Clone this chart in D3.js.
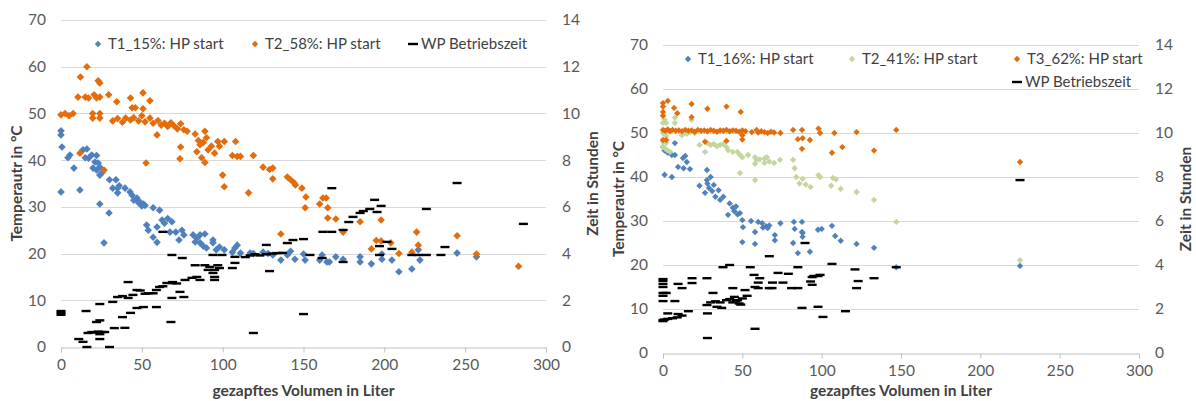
<!DOCTYPE html>
<html>
<head>
<meta charset="utf-8">
<script src="https://cdn.jsdelivr.net/npm/d3@7"></script>
<style>
  body { margin: 0; background: #fff; }
  svg { display: block; font-family: Lato, "Open Sans", sans-serif; }
</style>
</head>
<body>
<svg id="chart" width="1196" height="401"></svg>
<script>
// ---- data: [Liter, °C] for temperatures, [Liter, Stunden] for WP ----
const leftT1 = [[0,46.3],[0,45.4],[0.6,42.8],[0,33.2],[4.3,40.5],[5.5,41.1],[8,38.3],[11.7,33.6],[13.6,42.2],[16,42.4],[15,40.5],[17,40.4],[19,41.1],[22,41],[21,39.6],[23,39.4],[19.8,38.3],[22,37.9],[24,38.5],[25.4,37.3],[24,36.8],[30,35.8],[34,35.8],[32,34],[35,34],[36,34.5],[39.6,34],[35,33],[42.7,33.2],[44,32.5],[45,31.4],[47,31.9],[48,30.9],[49,31],[50,30.2],[51,30.6],[52,30.3],[24,30.6],[29.7,28.7],[26.6,22.3],[53,26.1],[54,25],[57,29.8],[61,29.3],[57,23.5],[59.4,22.4],[59.4,25.7],[62.5,27.2],[64,26.5],[66,27.5],[68.6,26.8],[67.4,24.6],[71,24.6],[74.8,25],[73,22.9],[76,24],[81.7,24],[84,23.3],[86,24],[89,24.2],[83,22.5],[86,22.3],[88,21.6],[90,21.2],[94,22.9],[94,22.3],[96,20.8],[98,21.4],[101,20.8],[106,20.3],[107.6,21.2],[109,21.8],[111,20.1],[117,20.1],[119,20],[125,20.3],[128,20],[131,19.7],[136,18.6],[140,19.7],[142,20.5],[144.7,18.8],[150,19.9],[151,18.6],[160,18.6],[161.5,19.7],[164.5,18.2],[166,18.2],[170,19.3],[174.5,18.8],[185,18.2],[185,19.3],[192,17.8],[198.5,18.8],[198.5,19.9],[204.7,18.6],[209,16.1],[217,16.7],[222,18.6],[221,20.8],[245,20.1],[257,19.3]];

const leftT2 = [[0,49.7],[2.5,50],[5,49.5],[7.5,50],[16,60],[12,57.8],[23,57],[24,56.5],[10.5,53.5],[15,53.5],[17,53.3],[20.5,54],[22,53.3],[24,53.5],[29.5,54],[19.6,50],[24,50],[19.6,49],[24,49],[34.5,52.5],[32,48.4],[35,48.9],[38,48.1],[40,49],[43,48.6],[45,49.1],[48,48.4],[50,49.5],[52,48.2],[55,49],[57,47.9],[60,48.5],[62,47.5],[64,47.9],[66,47.2],[68,48],[70,47.3],[72,46.7],[74,47.8],[76,46.5],[78,46.2],[43,53.3],[50.7,54.4],[55,52.7],[44,51.2],[46,51.2],[50.7,51],[52.6,39.4],[59.4,45.4],[74,42.8],[73.6,40.3],[26.6,37.9],[11.7,41.5],[83,45.6],[85,44.2],[86,43.3],[88,43.8],[89,46.2],[90,44.8],[91,42.2],[93,43],[95,41.5],[97,44],[84,41.8],[87,40.5],[89,39.5],[98,43],[101,44],[108,44],[106,41],[109,40.8],[111,40.8],[119,41],[100,36.8],[101,34.3],[116,33],[125,38.5],[129,38],[131,38.3],[131,36],[140,36.4],[142,35.8],[144,35.2],[145,34.7],[149,34],[151.5,32.1],[151,29.8],[160,30.6],[162,31.9],[164,31.9],[165,29.8],[165,27.6],[170,27.4],[174.5,24.6],[185,26.8],[198,27.2],[136,24.2],[192,21],[195,22.8],[198,22.7],[204,22.3],[209,20],[217,20.3],[220,24.6],[221,21.8],[245,23.8],[257,19.9],[283,17.3]];

const leftWP = [[0,1.54],[0,1.38],[0,1.46],[15.5,1.54],[11,0.34],[13.6,0.22],[16,0],[30,0],[16.7,0.6],[19,0.64],[21,0.62],[23,0.66],[25,0.64],[27,0.64],[24,0.55],[24,0.34],[22,1.07],[24,1.14],[24,1.84],[32,1.93],[35,2.14],[38,2.18],[41.5,2.1],[41.5,2.78],[33,0.81],[39.5,0.82],[38,1.28],[43,1.46],[47,1.67],[51,1.71],[59,1.71],[44.5,2.23],[47,2.44],[49,2.42],[52,2.28],[54,2.3],[57,2.3],[59,2.44],[61,2.57],[63,2.6],[65.5,2.74],[68.6,2.74],[69,2.78],[71.5,2.72],[63,4.93],[68.6,3.94],[75,3.81],[68.6,2.1],[68,1.07],[73.6,2.36],[76,2.14],[76.7,2.87],[81,2.96],[84,3.0],[86,2.87],[83,3.5],[89,3.5],[92,3.43],[91,3.3],[95,3.3],[94,3.17],[95,3.0],[95,2.87],[97,3.5],[98,3.38],[99.6,3.94],[94,3.94],[107.6,3.86],[106,3.38],[107.6,3.6],[114,3.85],[117,3.92],[120,3.97],[123,3.92],[127,3.97],[131,4.0],[134,4.02],[137,4.03],[119,0.6],[127,4.37],[129,3.25],[140,4.45],[143.5,4.58],[150,4.62],[150,1.41],[154,3.94],[161.5,3.81],[162,4.93],[167.5,4.93],[174.5,3.64],[174.5,5.01],[178,5.35],[180.6,5.57],[185,5.74],[187,5.82],[191,5.91],[195.5,5.78],[198,6.04],[194,6.3],[197,4.32],[201.6,4.5],[204.7,4.2],[197,3.94],[217,3.94],[221,3.94],[226,3.94],[226,5.91],[235,3.94],[237.5,4.28],[286,5.27],[167.5,6.8],[245,7.02]];

const rightT1 = [[0,46.8],[1,46],[3,45.5],[5.6,45],[7.5,45],[7.5,47.7],[1,40.5],[5.6,40],[12.6,44.3],[15,43.4],[9.5,42.3],[13,42],[17,41.8],[14,44.8],[27.7,41.6],[27.7,39.3],[23,38],[26.5,36.4],[28,38.5],[29,37.5],[30,40],[31,36.8],[32,38.2],[33,35.5],[35,37],[36,34.8],[38,35.5],[42,34],[44,33],[45,32.2],[46,33.3],[47,31.5],[41,31.4],[48.5,31.8],[50,30.2],[50.4,28.6],[50,25.2],[55.5,30],[58,27.5],[58,24.8],[60,29.8],[62.5,29.5],[63,28.5],[65,28.8],[66,28.4],[67,29],[74,29.5],[70.5,26.8],[70.5,25.6],[82.5,29.8],[83,28.2],[87.6,29.8],[88,27.3],[87.6,27.5],[88,26.4],[82,25],[85,22.7],[92.6,23],[97.7,28],[100,28.2],[106.5,28.9],[108.5,26.6],[112,25.5],[122,24.8],[133,23.9],[147,19.5],[225,19.8]];

const rightT2 = [[0,54],[1,53],[0,52.3],[2,52.3],[7.5,52.3],[7.5,53.5],[18,53],[0,50],[2,49.3],[12,49.5],[15,49.8],[17,50.2],[20,50],[0,48],[2,47.8],[0,46.8],[1.5,46.4],[3,46],[4.5,45.7],[23,47.3],[26.5,45.7],[28,47.7],[30,47.3],[32,47.5],[34,47],[36,47.3],[38,47.5],[40,46.8],[41,46.1],[44,45.7],[47,45.7],[48.5,45],[50,44.5],[48.5,40.9],[53.6,45],[58,44.5],[59,43.9],[58,43],[61,44],[64,44.2],[65.5,44.5],[64,43.2],[67,43.5],[70,43.2],[73.7,43.9],[58,39.3],[82,43.9],[83,42],[84,40],[86,38.5],[88,39.6],[90,38.3],[93,37.7],[98,40.4],[99,40],[107,39.8],[106,38],[109,39.5],[112,37.3],[122,36.6],[133,34.8],[147,29.8],[225,21.1]];

const rightT3 = [[0,56.8],[3,57.3],[0,56],[0,54.8],[0,53.9],[7,55.7],[9,54.5],[18,56.6],[18,53.6],[28,55.5],[40,56],[49,54.8],[0,50.7],[1.5,50.5],[3,50.8],[4.5,50.4],[6,50.7],[8,50.5],[10,50.6],[12,50.4],[14,50.7],[16,50.5],[18,50.6],[20,50.3],[22,50.7],[24,50.5],[26,50.6],[28,50.4],[30,50.7],[32,50.5],[34,50.3],[36,50.6],[38,50.5],[40,50.7],[42,50.4],[44,50.6],[46,50.5],[48,50.3],[50,50.6],[52,50.4],[56,50.2],[60,50.1],[62,50.4],[64,50.2],[66,50],[68,50.3],[70,50.1],[0,48.4],[2,48.4],[26.5,48],[40,48.2],[50,49.5],[50,48.5],[59,50.7],[74,50],[82,50.7],[87.6,50.7],[98,51],[99,50],[108,50],[85,48.6],[88,48.8],[92.6,48.4],[87.6,46.4],[106.5,45.5],[113,46.8],[122,50.2],[133,46],[147,50.7],[225,43.4]];

const rightWP = [[0,3.36],[0,3.28],[0,3.14],[0,3.0],[0,2.73],[0,2.6],[0,2.36],[0,1.5],[0,1.45],[1,1.52],[3,1.55],[6,1.58],[9,1.62],[12,1.7],[16,1.9],[7.5,2.36],[2,2.73],[9.5,3.14],[12,2.95],[18.3,3.18],[18.3,3.4],[27.7,3.4],[3,1.8],[9.5,1.77],[28,1.8],[27.7,2.18],[30,2.3],[31.5,2.73],[33,2.35],[34,2.1],[36,2.3],[37,2.05],[40,2.4],[42,2.45],[44,2.3],[46,2.35],[37.8,3.9],[42,4.0],[44,2.95],[45,2.55],[47,2.4],[48,2.25],[49,2.2],[50,2.48],[51.7,2.86],[53,2.6],[55,3.9],[57.4,3.55],[60,3.2],[58,3.0],[61,3.4],[60,2.95],[67,2.95],[68.7,2.95],[69,3.2],[72.5,3.64],[79,3.6],[75.6,3.2],[81,2.95],[85,2.95],[85,3.9],[94,3.45],[94,3.1],[93,3.25],[95,3.5],[97.7,3.5],[99,3.55],[87.6,2.05],[97.7,2.1],[100.8,1.64],[106.5,4.05],[115,1.9],[58,1.1],[28,0.68],[67,4.4],[89.5,5.0],[121,3.8],[123,3.27],[122,2.95],[133,3.4],[147,3.9],[225,7.86]];

const xTicks = [0, 50, 100, 150, 200, 250, 300];
const yTicks = [0, 10, 20, 30, 40, 50, 60, 70];
const y2Ticks = [0, 2, 4, 6, 8, 10, 12, 14];

const BLUE = "#4F81BD", ORANGE = "#E46C0A", GREEN = "#C3D69B";

const svg = d3.select("#chart");
const diamond = r => `M0,${-r}L${r},0L0,${r}L${-r},0Z`;

function drawPanel(p) {
  const x = d3.scaleLinear().domain([0, 300]).range([p.x0, p.x1]);
  const y = d3.scaleLinear().domain([0, 70]).range([p.yBot, p.yTop]);
  const y2 = d3.scaleLinear().domain([0, 14]).range([p.yBot, p.yTop]);
  const g = svg.append("g");

  // gridlines
  g.selectAll(".grid").data(yTicks.slice(1)).enter().append("line")
    .attr("x1", p.x0).attr("x2", p.x1)
    .attr("y1", d => Math.round(y(d)) + 0.5).attr("y2", d => Math.round(y(d)) + 0.5)
    .attr("stroke", "#D9D9D9");

  // x axis
  const xa = g.append("g").attr("transform", `translate(0,${Math.round(p.yBot) + 0.5})`)
    .call(d3.axisBottom(x).tickValues(xTicks).tickSize(5).tickPadding(6));
  xa.select(".domain").attr("stroke", "#BFBFBF");
  xa.selectAll(".tick line").attr("stroke", "#BFBFBF");
  xa.selectAll("text").attr("font-size", 15.5).attr("fill", "#595959").attr("font-family", "Lato");

  // left / right tick labels
  g.selectAll(".yl").data(yTicks).enter().append("text")
    .attr("x", p.x0 - 15).attr("y", d => y(d)).attr("dy", "0.35em")
    .attr("text-anchor", "end").attr("font-size", 15.5).attr("fill", "#595959")
    .text(d => d);
  g.selectAll(".yr").data(y2Ticks).enter().append("text")
    .attr("x", p.x1 + 16).attr("y", d => y2(d)).attr("dy", "0.35em")
    .attr("font-size", 15.5).attr("fill", "#595959")
    .text(d => d);

  // axis titles
  const mid = (p.yTop + p.yBot) / 2;
  g.append("text").attr("transform", `translate(${p.x0 - 44},${mid}) rotate(-90)`)
    .attr("text-anchor", "middle").attr("dy", "0.35em")
    .attr("font-size", 15.5).attr("font-weight", "bold").attr("fill", "#404040")
    .text("Temperautr in °C");
  g.append("text").attr("transform", `translate(${p.x1 + 47},${mid}) rotate(-90)`)
    .attr("text-anchor", "middle").attr("dy", "0.35em")
    .attr("font-size", 15.5).attr("font-weight", "bold").attr("fill", "#404040")
    .text("Zeit in Stunden");
  g.append("text").attr("x", (p.x0 + p.x1) / 2).attr("y", 391).attr("dy", "0.35em")
    .attr("text-anchor", "middle")
    .attr("font-size", 15.5).attr("font-weight", "bold").attr("fill", "#404040")
    .text("gezapftes Volumen in Liter");

  // series, drawn in legend order
  p.series.forEach(s => {
    g.append("g").selectAll("path").data(s.data).enter().append("path")
      .attr("transform", d => `translate(${x(d[0])},${y(d[1])})`)
      .attr("d", diamond(p.r)).attr("fill", s.color);
  });
  g.append("g").selectAll("rect").data(p.wp).enter().append("rect")
    .attr("x", d => x(d[0]) - 4.5).attr("y", d => y2(d[1]) - 1.2)
    .attr("width", 9).attr("height", 2.4).attr("fill", "#000");

  // legend
  const items = p.series.map(s => ({ label: s.label, color: s.color }))
    .concat([{ label: "WP Betriebszeit", dash: true }]);
  items.forEach((it, i) => {
    const pos = p.legend[i];
    if (it.dash) {
      g.append("rect").attr("x", pos[0] - 5).attr("y", pos[1] - 1.2)
        .attr("width", 10).attr("height", 2.4).attr("fill", "#000");
    } else {
      g.append("path").attr("transform", `translate(${pos[0]},${pos[1]})`)
        .attr("d", diamond(3.2)).attr("fill", it.color);
    }
    g.append("text").attr("x", pos[0] + (it.dash ? 8 : 10)).attr("y", pos[1]).attr("dy", "0.35em")
      .attr("font-size", 15).attr("fill", "#404040").text(it.label);
  });
}

drawPanel({
  x0: 61, x1: 546, yTop: 20, yBot: 347, r: 3.8,
  series: [
    { label: "T1_15%: HP start", color: BLUE, data: leftT1 },
    { label: "T2_58%: HP start", color: ORANGE, data: leftT2 }
  ],
  wp: leftWP,
  legend: [[98, 44], [255, 44], [413, 44]]
});

drawPanel({
  x0: 663, x1: 1139, yTop: 45, yBot: 353, r: 3.2,
  series: [
    { label: "T1_16%: HP start", color: BLUE, data: rightT1 },
    { label: "T2_41%: HP start", color: GREEN, data: rightT2 },
    { label: "T3_62%: HP start", color: ORANGE, data: rightT3 }
  ],
  wp: rightWP,
  legend: [[688, 59], [852, 59], [1017, 59], [1017, 82]]
});
</script>
</body>
</html>
